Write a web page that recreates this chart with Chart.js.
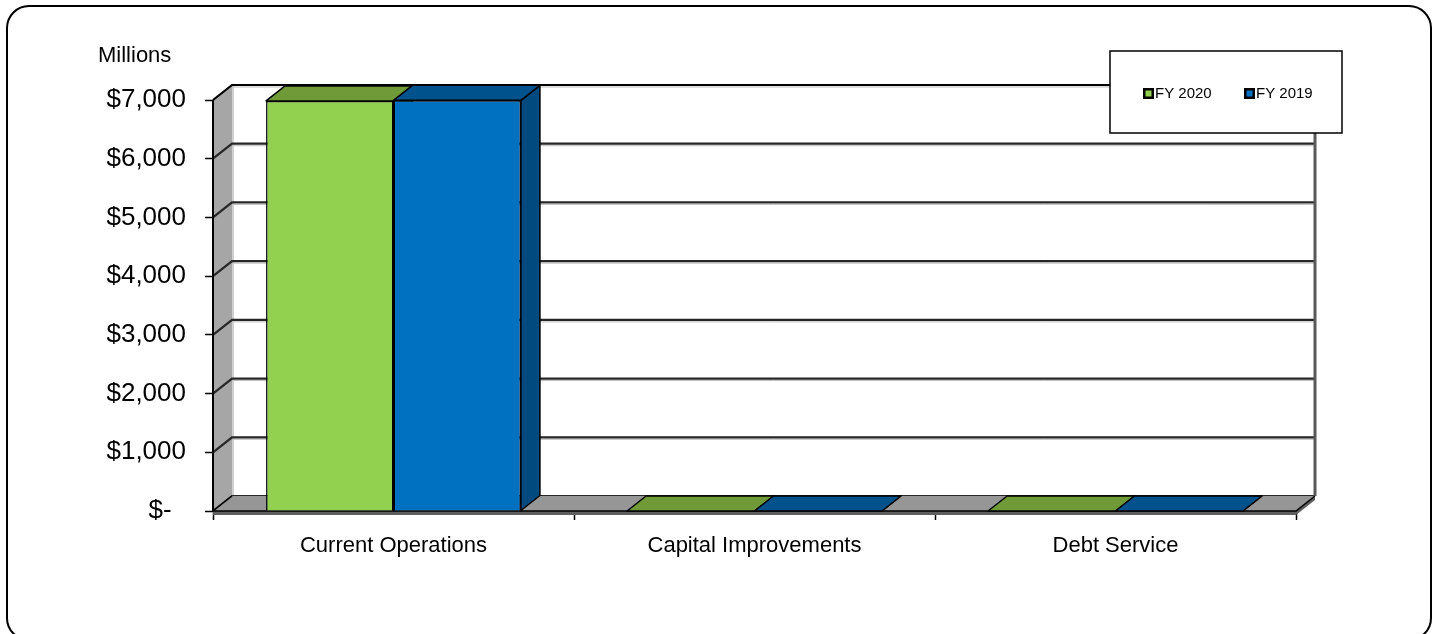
<!DOCTYPE html>
<html>
<head>
<meta charset="utf-8">
<script src="https://cdn.jsdelivr.net/npm/chart.js@4.4.1/dist/chart.umd.min.js"></script>
<style>
  html, body { margin: 0; padding: 0; background: #fff; overflow: hidden; }
  #wrap { position: relative; width: 1435px; height: 634px; }
</style>
</head>
<body>
<div id="wrap"><canvas id="budgetChart"></canvas></div>
<script>
// data
const categories = ['Current Operations', 'Capital Improvements', 'Debt Service'];
const fy2020 = [6985, 0, 0];
const fy2019 = [6995, 0, 0];
const seriesNames = ['FY 2020', 'FY 2019'];
const yMax = 7000;
const yStep = 1000;

// look of the 3D faces (Excel style)
const FONT = "'Liberation Sans', Arial, sans-serif";
const DX = 19, DY = -15;
const frontColors = ['#92D050', '#0070C0'];
const topColors = ['#6F9A37', '#00528C'];
const sideColors = ['#5E8530', '#004A80'];

// category labels in the picture are condensed; use the narrow face if it is there
function hasFont(name) {
  const c = document.createElement('canvas').getContext('2d');
  c.font = '40px monospace';
  const a = c.measureText('Current Operations').width;
  c.font = "40px '" + name + "', monospace";
  return c.measureText('Current Operations').width !== a;
}
const narrow = hasFont('Liberation Sans Narrow');
const catFont = narrow ? { family: "'Liberation Sans Narrow', " + FONT, size: 26 } : { family: FONT, size: 22 };

const fmtMoney = v => v === 0 ? '$-  ' : '$' + v.toLocaleString('en-US');

const excel3d = {
  id: 'excel3d',
  beforeDraw(chart) {
    const ctx = chart.ctx;
    ctx.save();
    // outer rounded frame
    ctx.lineWidth = 2;
    ctx.strokeStyle = '#000';
    ctx.beginPath();
    ctx.roundRect(7, 6, 1424, 634, 22);
    ctx.stroke();
    // units label
    ctx.fillStyle = '#000';
    ctx.font = '22px ' + FONT;
    ctx.textBaseline = 'alphabetic';
    ctx.fillText('Millions', 98, 62);
    ctx.restore();
  },
  beforeDatasetsDraw(chart) {
    const ctx = chart.ctx;
    const { left, right, top, bottom } = chart.chartArea;
    const ys = chart.scales.y;
    ctx.save();

    // left wall
    ctx.fillStyle = '#A6A6A6';
    ctx.beginPath();
    ctx.moveTo(left, top); ctx.lineTo(left + DX, top + DY);
    ctx.lineTo(left + DX, bottom + DY); ctx.lineTo(left, bottom);
    ctx.closePath(); ctx.fill();
    ctx.strokeStyle = '#D0D0D0'; ctx.lineWidth = 2;
    ctx.beginPath(); ctx.moveTo(left + DX + 1, top + DY); ctx.lineTo(left + DX + 1, bottom + DY); ctx.stroke();

    // gridlines across left wall and back wall
    ys.ticks.forEach(t => {
      const y = ys.getPixelForValue(t.value);
      ctx.strokeStyle = '#BDBDBD'; ctx.lineWidth = 1;
      ctx.beginPath(); ctx.moveTo(left + DX, y + DY + 2); ctx.lineTo(right + DX, y + DY + 2); ctx.stroke();
      ctx.strokeStyle = t.value === yMax ? '#000' : '#262626'; ctx.lineWidth = 2.2;
      ctx.beginPath(); ctx.moveTo(left, y); ctx.lineTo(left + DX, y + DY); ctx.lineTo(right + DX, y + DY); ctx.stroke();
    });

    // back wall right edge
    ctx.strokeStyle = '#595959'; ctx.lineWidth = 3;
    ctx.beginPath(); ctx.moveTo(right + DX, top + DY); ctx.lineTo(right + DX, bottom + DY); ctx.stroke();

    // left axis line
    ctx.strokeStyle = '#000'; ctx.lineWidth = 2;
    ctx.beginPath(); ctx.moveTo(left, top); ctx.lineTo(left, bottom); ctx.stroke();

    // floor slab
    ctx.fillStyle = '#969696';
    ctx.beginPath();
    ctx.moveTo(left, bottom); ctx.lineTo(right, bottom);
    ctx.lineTo(right + DX, bottom + DY); ctx.lineTo(left + DX, bottom + DY);
    ctx.closePath(); ctx.fill();
    ctx.fillStyle = '#5F5F5F';
    ctx.fillRect(left, bottom, right - left, 4);
    ctx.beginPath();
    ctx.moveTo(right, bottom); ctx.lineTo(right + DX, bottom + DY);
    ctx.lineTo(right + DX, bottom + DY + 4); ctx.lineTo(right, bottom + 4);
    ctx.closePath(); ctx.fill();
    ctx.strokeStyle = '#000'; ctx.lineWidth = 1.5;
    ctx.beginPath();
    ctx.moveTo(left, bottom); ctx.lineTo(right, bottom); ctx.lineTo(right + DX, bottom + DY);
    ctx.moveTo(left, bottom); ctx.lineTo(left + DX, bottom + DY);
    ctx.stroke();

    // bar sides and tops, painted left to right
    const bars = [];
    chart.data.datasets.forEach((ds, i) => {
      chart.getDatasetMeta(i).data.forEach(el => bars.push({ el, i }));
    });
    bars.sort((a, b) => a.el.x - b.el.x);
    ctx.strokeStyle = '#000'; ctx.lineWidth = 1.5; ctx.lineJoin = 'round';
    bars.forEach(({ el, i }) => {
      const L = el.x - el.width / 2, R = el.x + el.width / 2, y = el.y, b = el.base;
      ctx.fillStyle = sideColors[i];
      ctx.beginPath();
      ctx.moveTo(R, y); ctx.lineTo(R + DX, y + DY); ctx.lineTo(R + DX, b + DY); ctx.lineTo(R, b);
      ctx.closePath(); ctx.fill(); ctx.stroke();
      ctx.fillStyle = topColors[i];
      ctx.beginPath();
      ctx.moveTo(L, y); ctx.lineTo(R, y); ctx.lineTo(R + DX, y + DY); ctx.lineTo(L + DX, y + DY);
      ctx.closePath(); ctx.fill(); ctx.stroke();
    });
    ctx.restore();
  },
  afterDatasetsDraw(chart) {
    const ctx = chart.ctx;
    ctx.save();
    // legend box
    const bx = 1110, by = 51, bw = 232, bh = 82;
    ctx.fillStyle = '#fff';
    ctx.fillRect(bx, by, bw, bh);
    ctx.strokeStyle = '#000'; ctx.lineWidth = 1.5;
    ctx.strokeRect(bx, by, bw, bh);
    ctx.font = '15px ' + FONT;
    ctx.textBaseline = 'middle';
    chart.data.datasets.forEach((ds, i) => {
      const x = 1143 + i * 101, y = 93;
      ctx.fillStyle = '#000';
      ctx.fillRect(x, y - 5, 11, 11);
      ctx.fillStyle = ds.backgroundColor;
      ctx.fillRect(x + 2.5, y - 2.5, 6, 6);
      ctx.fillStyle = '#000';
      ctx.fillText(ds.label, x + 12, y + 1);
    });
    ctx.restore();
  }
};

new Chart(document.getElementById('budgetChart'), {
  type: 'bar',
  data: {
    labels: categories,
    datasets: [
      { label: seriesNames[0], data: fy2020, backgroundColor: frontColors[0], borderColor: '#000', borderWidth: 1.5 },
      { label: seriesNames[1], data: fy2019, backgroundColor: frontColors[1], borderColor: '#000', borderWidth: 1.5 }
    ]
  },
  options: {
    responsive: true,
    maintainAspectRatio: false,
    animation: false,
    layout: { padding: { left: 0, right: 139, top: 100, bottom: 0 } },
    datasets: { bar: { categoryPercentage: 0.706, barPercentage: 1 } },
    plugins: { legend: { display: false }, tooltip: { enabled: false } },
    scales: {
      x: {
        afterFit: s => { s.height = 123; },
        border: { display: false },
        grid: { drawOnChartArea: false, drawTicks: true, tickLength: 9, color: '#000', tickWidth: 1.5, offset: true },
        ticks: { color: '#000', font: catFont, padding: narrow ? 11 : 13, maxRotation: 0 }
      },
      y: {
        min: 0,
        max: yMax,
        afterFit: s => { s.width = 213; },
        border: { display: false },
        grid: { drawOnChartArea: false, drawTicks: true, tickLength: 8, color: '#000', tickWidth: 1.5 },
        ticks: { stepSize: yStep, color: '#000', font: { family: FONT, size: 26 }, padding: 19, callback: fmtMoney }
      }
    }
  },
  plugins: [excel3d]
});
</script>
</body>
</html>
